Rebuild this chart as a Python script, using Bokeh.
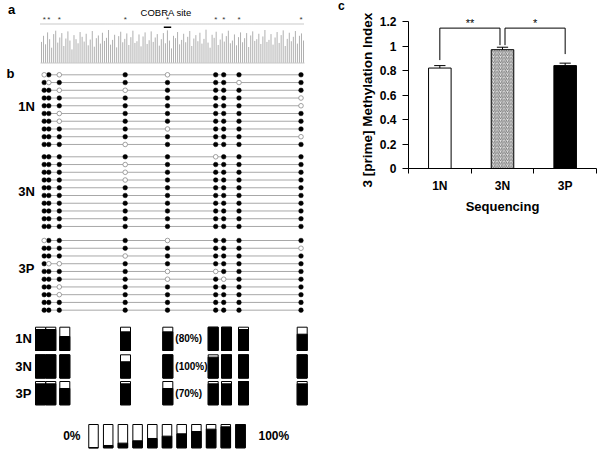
import numpy as np
from bokeh.plotting import figure
from bokeh.layouts import row
from bokeh.models import Range1d, FixedTicker, NumeralTickFormatter, ColumnDataSource, Title
from bokeh.embed import file_html
from bokeh.resources import INLINE
from bokeh.core.properties import value

FONT = "Liberation Sans"

# ---------------- data ----------------
groups = ["1N", "3N", "3P"]
# CpG site positions along the amplicon (panel a/b horizontal axis units)
cpg_pos = [43.7, 48.3, 58.8, 124.7, 167.0, 215.2, 223.2, 238.5, 300.5]
cobra_site = 4  # index of the CpG at the COBRA site

# bisulfite clone methylation status (1 = methylated, 0 = unmethylated)
meth_1N = ["010101111", "101111101", "110011111", "111111110", "111111110",
           "110111111", "110111111", "111101111", "111111110", "111011111"]
meth_3N = ["111110111", "111011111", "111011111", "111011111", "111111111",
           "111111111", "111111111", "111111111", "111111111", "111111111"]
meth_3P = ["011101111", "111111110", "111011111", "100111111", "111100111",
           "111101011", "110111111", "110111111", "111111111", "111111111"]

legend_pct = [0, 10, 20, 30, 40, 50, 60, 70, 80, 90, 100]

# sequencing chromatogram peak intensities (estimated, relative units)
chrom_intensity = [62, 80, 55, 90, 70, 45, 85, 95, 60, 75, 88, 50, 72, 93, 66, 40, 82, 70, 58, 91,
                   77, 63, 86, 52, 69, 94, 48, 73, 81, 57, 89, 65, 74, 97, 54, 68, 83, 46, 79, 92,
                   61, 71, 87, 53, 76, 95, 59, 64, 84, 49, 78, 90, 56, 67, 93, 62, 75, 85, 51, 70,
                   88, 58, 96, 66, 43, 80, 73, 91, 55, 68, 86, 61, 77, 94, 50, 72, 82, 64, 89, 57,
                   71, 98, 60, 45, 83, 74, 92, 53, 69, 87, 63, 79, 95, 58, 66, 84, 52, 76, 90, 61,
                   73, 88, 47, 81, 93, 65, 70, 86, 56, 78, 97, 62, 68, 85, 54, 75, 91, 59, 82, 96,
                   50, 71, 89, 64, 77, 94, 57, 80, 87, 66]

# panel c
bar_groups = ["1N", "3N", "3P"]
bar_values = [0.82, 0.97, 0.84]
bar_errors = [0.02, 0.02, 0.02]
y_ticks = [0, 0.2, 0.4, 0.6, 0.8, 1.0, 1.2]
sig_pairs = [(0, 1, "**"), (1, 2, "*")]

# ---------------- layout constants (panel a/b) ----------------
row_step = 7.74
group_top = [74.3, 156.3, 240.0]
group_label_y = [106.0, 190.5, 267.5]
summary_x = [40.0, 50.3, 64.3, 125.0, 167.3, 212.7, 226.0, 243.0, 301.7]
summary_top = [326.7, 354.3, 381.0]
summary_h = 23.3
summary_w = 10.0
legend_x0, legend_dx, legend_w = 93.0, 14.7, 9.5
legend_top, legend_h = 424.0, 23.3

# ---------------- left figure: panels a and b ----------------
W1 = 346
p1 = figure(frame_width=W1, frame_height=453, x_range=Range1d(0, W1), y_range=Range1d(453, 0),
            x_axis_type=None, y_axis_type=None, output_backend="svg",
            toolbar_location=None, min_border=0)
p1.title.visible = False
p1.grid.visible = False
p1.outline_line_color = None

def txt(fig, x, y, t, size, bold=False, align="center", color="black", baseline="middle"):
    fig.text(x=[x], y=[y], text=[t], text_font=value(FONT), text_font_size=size,
             text_font_style="bold" if bold else "normal", text_align=align,
             text_baseline=baseline, text_color=color)

# panel a
txt(p1, 11, 8.5, "a", "13px", bold=True)
txt(p1, 167, 11.5, "COBRA  site", "9.5px")
p1.text(x=cpg_pos, y=[18.5] * len(cpg_pos), text=["*"] * len(cpg_pos),
        text_font=value(FONT), text_font_size="8px", text_align="center",
        text_baseline="middle", text_color="#333333")
p1.segment(x0=[40], y0=[23.5], x1=[304], y1=[23.5], line_color="#b8b8b8",
           line_width=1.5, line_dash="1 1")
cx = cpg_pos[cobra_site]
p1.segment(x0=[cx - 3.7], y0=[26.7], x1=[cx + 3.7], y1=[26.7], line_color="black", line_width=1.6)

n = len(chrom_intensity)
chrom_x = np.linspace(41, 303, n)
base_y = 62.5
chrom_top = base_y - np.array(chrom_intensity) * 0.34
p1.segment(x0=chrom_x, y0=[base_y] * n, x1=chrom_x, y1=chrom_top,
           line_color="#b0b0b0", line_width=1)
p1.segment(x0=[40], y0=[base_y], x1=[304], y1=[base_y], line_color="#c8c8c8", line_width=1)

# panel b: lollipops
txt(p1, 10, 72.5, "b", "13px", bold=True)
mats = [meth_1N, meth_3N, meth_3P]
ly, fx, fy, ox, oy = [], [], [], [], []
for g, mat in enumerate(mats):
    for r, s in enumerate(mat):
        y = group_top[g] + r * row_step
        ly.append(y)
        for c, ch in enumerate(s):
            if ch == "1":
                fx.append(cpg_pos[c]); fy.append(y)
            else:
                ox.append(cpg_pos[c]); oy.append(y)
    txt(p1, 26, group_label_y[g], groups[g], "13px", bold=True)

p1.segment(x0=[cpg_pos[0]] * len(ly), y0=ly, x1=[cpg_pos[-1]] * len(ly), y1=ly,
           line_color="#a8a8a8", line_width=1)
p1.scatter(x=fx, y=fy, size=4.6, fill_color="black", line_color="black", line_width=0.5)
p1.scatter(x=ox, y=oy, size=4.6, fill_color="white", line_color="#8a8a8a", line_width=0.8)

# summary bars
for g, mat in enumerate(mats):
    arr = np.array([[int(ch) for ch in s] for s in mat])
    frac = arr.mean(axis=0)
    top = summary_top[g]
    bot = top + summary_h
    left = [x - summary_w / 2 for x in summary_x]
    right = [x + summary_w / 2 for x in summary_x]
    p1.quad(left=left, right=right, top=[top] * 9, bottom=[bot] * 9,
            fill_color="white", line_color="black", line_width=1)
    p1.quad(left=left, right=right, top=[bot - f * summary_h for f in frac], bottom=[bot] * 9,
            fill_color="black", line_color="black", line_width=1)
    ymid = top + summary_h / 2
    txt(p1, 23, ymid, groups[g], "13px", bold=True)
    txt(p1, summary_x[cobra_site] + 7.5, ymid, "(%d%%)" % round(frac[cobra_site] * 100),
        "10px", bold=True, align="left")

# legend scale
lx = [legend_x0 + i * legend_dx for i in range(len(legend_pct))]
lbot = legend_top + legend_h
p1.quad(left=[x - legend_w / 2 for x in lx], right=[x + legend_w / 2 for x in lx],
        top=[legend_top] * len(lx), bottom=[lbot] * len(lx),
        fill_color="white", line_color="black", line_width=1)
p1.quad(left=[x - legend_w / 2 for x in lx], right=[x + legend_w / 2 for x in lx],
        top=[lbot - v / 100 * legend_h for v in legend_pct], bottom=[lbot] * len(lx),
        fill_color="black", line_color="black", line_width=1)
txt(p1, 80, legend_top + legend_h / 2, "0%", "12px", bold=True, align="right")
txt(p1, 258, legend_top + legend_h / 2, "100%", "12px", bold=True, align="left")

# panel letter c (sits just left of panel c)
txt(p1, 337.5, 5.5, "c", "12px", bold=True, align="left")

# ---------------- right figure: panel c ----------------
FH = 168          # frame height (px); y = 0 at bottom, 1.2 at 21 px from the top
ytop = 1.2 * FH / 147.0
p2 = figure(frame_width=188, frame_height=FH, x_range=Range1d(0, 3), y_range=Range1d(0, ytop),
            output_backend="svg", toolbar_location=None,
            min_border_left=62, min_border_right=6, min_border_top=0, min_border_bottom=50)
p2.title.visible = False
p2.grid.visible = False
p2.outline_line_color = None

xc = [i + 0.5 for i in range(len(bar_groups))]
src = ColumnDataSource(dict(
    x=xc, top=bar_values,
    fill=["white", "#e4e4e4", "black"],
    hatch=["blank", "right_diagonal_line", "blank"]))
p2.vbar(x="x", top="top", bottom=0, width=0.36, source=src, fill_color="fill",
        line_color="black", line_width=1, hatch_pattern="hatch", hatch_color="#5a5a5a",
        hatch_scale=3.5, hatch_weight=0.8)

err_top = [v + e for v, e in zip(bar_values, bar_errors)]
p2.segment(x0=xc, y0=bar_values, x1=xc, y1=err_top, line_color="black", line_width=1)
p2.segment(x0=[x - 0.09 for x in xc], y0=err_top, x1=[x + 0.09 for x in xc], y1=err_top,
           line_color="black", line_width=1)

bracket_y = 1.146
leg_bottom = [0.885, 1.007, 0.934]
bx, by, sx, st = [], [], [], []
for a, b, stars in sig_pairs:
    xa = xc[a] + (0.04 if a == 1 else 0.0)
    xb = xc[b] - (0.04 if b == 1 else 0.0)
    bx.append([xa, xa, xb, xb])
    by.append([leg_bottom[a], bracket_y, bracket_y, leg_bottom[b]])
    sx.append((xa + xb) / 2)
    st.append(stars)
p2.multi_line(xs=bx, ys=by, line_color="black", line_width=1)
p2.text(x=sx, y=[1.185] * len(sx), text=st, text_align="center", text_baseline="middle",
        text_font=value(FONT), text_font_size="11px", text_color="black")

xa_ = p2.xaxis[0]
xa_.ticker = FixedTicker(ticks=xc, minor_ticks=[0, 1, 2, 3])
xa_.major_label_overrides = {x: g for x, g in zip(xc, bar_groups)}
xa_.major_tick_out = 0
xa_.major_tick_in = 0
xa_.minor_tick_out = 5
xa_.minor_tick_in = 0
xa_.minor_tick_line_color = "black"
xa_.bounds = (0, 3)
xa_.axis_label = "Sequencing"
xa_.axis_label_standoff = 3
xa_.major_label_standoff = 5

ya_ = p2.yaxis[0]
ya_.ticker = FixedTicker(ticks=y_ticks, minor_ticks=[])
ya_.formatter = NumeralTickFormatter(format="0.[0]")
ya_.major_tick_out = 6
ya_.major_tick_in = 0
ya_.major_label_standoff = 6
ya_.bounds = (0, 1.2)

for ax in (xa_, ya_):
    ax.axis_line_color = "black"
    ax.major_tick_line_color = "black"
    ax.major_label_text_font = FONT
    ax.major_label_text_font_style = "bold"
    ax.major_label_text_font_size = "12px"
    ax.major_label_text_color = "black"
    ax.axis_label_text_font = FONT
    ax.axis_label_text_font_style = "bold"
    ax.axis_label_text_font_size = "13px"
    ax.axis_label_text_color = "black"

ytitle = Title(text="3 [prime] Methylation Index", align="left", offset=-19,
               text_font=FONT, text_font_style="bold", text_font_size="13.5px",
               text_color="black", standoff=4)
p2.add_layout(ytitle, "left")

layout = row(p1, p2)
open("out.html", "w").write(file_html(layout, INLINE))
